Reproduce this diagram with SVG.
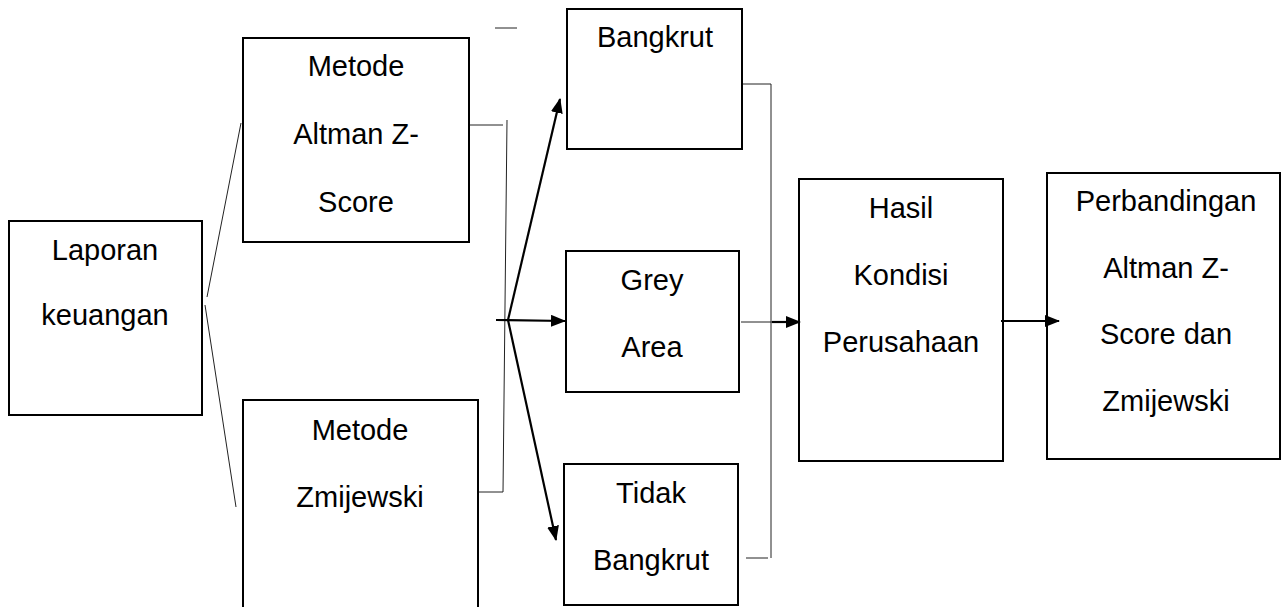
<svg xmlns="http://www.w3.org/2000/svg" width="1282" height="607" viewBox="0 0 1282 607">
<style>
.box{fill:#fff;stroke:#000;stroke-width:2}
.t{font-family:"Liberation Sans",Arial,sans-serif;font-size:29px;fill:#000;text-anchor:middle}
.thin{stroke:#222;stroke-width:1;fill:none}
.thick{stroke:#000;stroke-width:2.2;fill:none}
</style>
<defs>
<marker id="ah" markerWidth="15" markerHeight="12" refX="14" refY="6" orient="auto" markerUnits="userSpaceOnUse">
<path d="M0,0 L15,6 L0,12 Z" fill="#000"/>
</marker>
</defs>
<rect width="1282" height="607" fill="#fff"/>
<g id="laporan">
<rect class="box" x="9" y="221" width="193" height="194"/>
<text class="t" x="105" y="260">Laporan</text>
<text class="t" x="105" y="325">keuangan</text>
</g>
<g id="altman">
<rect class="box" x="243" y="38" width="226" height="204"/>
<text class="t" x="356" y="76">Metode</text>
<text class="t" x="356" y="144">Altman Z-</text>
<text class="t" x="356" y="212">Score</text>
</g>
<g id="zmijewski">
<rect class="box" x="243" y="400" width="235" height="230"/>
<text class="t" x="360" y="440">Metode</text>
<text class="t" x="360" y="507">Zmijewski</text>
</g>
<g id="bangkrut">
<rect class="box" x="567" y="9" width="175" height="140"/>
<text class="t" x="655" y="47">Bangkrut</text>
</g>
<g id="grey">
<rect class="box" x="566" y="251" width="173" height="141"/>
<text class="t" x="652" y="290">Grey</text>
<text class="t" x="652" y="357">Area</text>
</g>
<g id="tidak">
<rect class="box" x="564" y="464" width="174" height="141"/>
<text class="t" x="651" y="503">Tidak</text>
<text class="t" x="651" y="570">Bangkrut</text>
</g>
<g id="hasil">
<rect class="box" x="799" y="179" width="204" height="282"/>
<text class="t" x="901" y="218">Hasil</text>
<text class="t" x="901" y="285">Kondisi</text>
<text class="t" x="901" y="352">Perusahaan</text>
</g>
<g id="perbandingan">
<rect class="box" x="1047" y="173" width="233" height="286"/>
<text class="t" x="1166" y="211">Perbandingan</text>
<text class="t" x="1166" y="278">Altman Z-</text>
<text class="t" x="1166" y="344">Score dan</text>
<text class="t" x="1166" y="411">Zmijewski</text>
</g>
<g id="connectors">
<line class="thin" x1="207" y1="297" x2="241" y2="123"/>
<line class="thin" x1="205" y1="305" x2="236" y2="507"/>
<line class="thin" x1="470" y1="125" x2="503" y2="125"/>
<line class="thin" x1="507" y1="120" x2="503" y2="492"/>
<line class="thin" x1="479" y1="492" x2="503" y2="492"/>
<line class="thin" x1="495" y1="28" x2="517" y2="28"/>
<line class="thick" x1="508" y1="320" x2="560" y2="99" marker-end="url(#ah)"/>
<line class="thick" x1="496" y1="320" x2="565" y2="321" marker-end="url(#ah)"/>
<line class="thick" x1="508" y1="320" x2="556" y2="540" marker-end="url(#ah)"/>
<polyline class="thin" points="743,84 771,84 771,558"/>
<line class="thin" x1="746" y1="558" x2="768" y2="558"/>
<line class="thin" x1="741" y1="322" x2="772" y2="322"/>
<line class="thick" x1="772" y1="322" x2="800" y2="322" marker-end="url(#ah)"/>
<line class="thick" x1="1001" y1="321" x2="1059" y2="321" marker-end="url(#ah)"/>
</g>
</svg>
